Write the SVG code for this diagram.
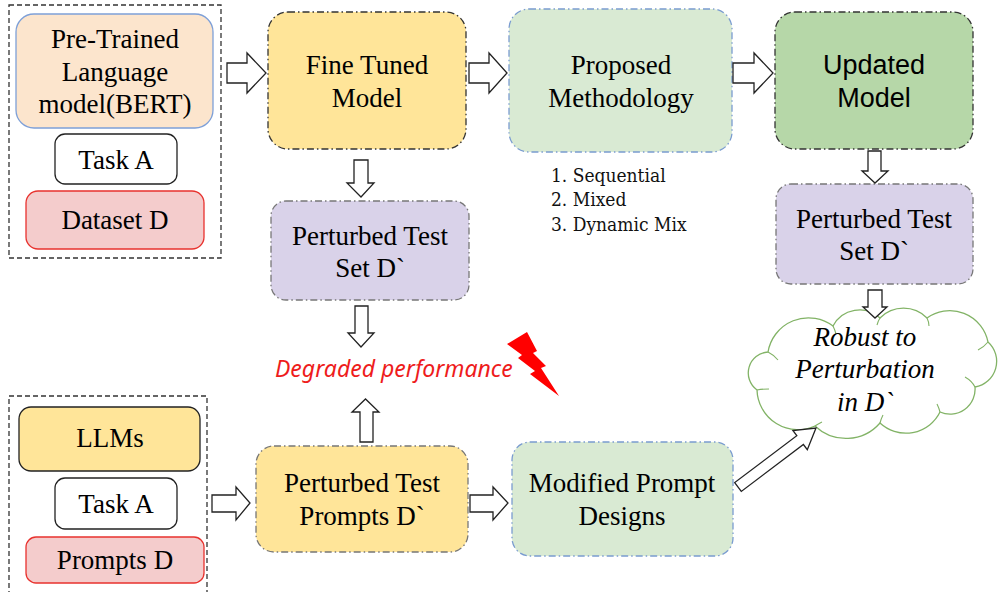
<svg xmlns="http://www.w3.org/2000/svg" width="1005" height="592" viewBox="0 0 1005 592">
<style>
.t{font-family:"Liberation Serif","Times New Roman",serif;font-size:27px;fill:#000;text-anchor:middle}
.ts{font-family:"Liberation Sans",Arial,sans-serif;font-size:27px;fill:#000;text-anchor:middle}
.ti{font-family:"Liberation Serif","Times New Roman",serif;font-size:27px;font-style:italic;fill:#000;text-anchor:middle}
.li{font-family:"DejaVu Serif Condensed","DejaVu Serif",serif;font-stretch:condensed;font-size:19px;fill:#111}
.deg{font-family:"Noto Sans","Open Sans",sans-serif;font-size:23px;font-style:italic;fill:#ee1c1c}
.cont{fill:none;stroke:#333;stroke-width:1.3;stroke-dasharray:5 3}
.dd{stroke-width:1.3;stroke-dasharray:7 3 1.5 3}
.arr{fill:#fff;stroke:#222;stroke-width:1.3;stroke-linejoin:miter}
</style>

<g id="input-box-top">
<rect class="cont" x="9" y="5" width="212" height="253"/>
</g>
<g id="pretrained">
<rect x="16" y="14" width="197" height="114" rx="18" fill="#fce5cd" stroke="#7ea0d8" stroke-width="1.3"/>
<text class="t" x="115" y="48">Pre-Trained</text>
<text class="t" x="115" y="81">Language</text>
<text class="t" x="115" y="113">model(BERT)</text>
</g>
<g id="taskA-top">
<rect x="55" y="134" width="122" height="50" rx="10" fill="#fff" stroke="#222" stroke-width="1.3"/>
<text class="t" x="116" y="169">Task A</text>
</g>
<g id="dataset">
<rect x="26" y="191" width="178" height="58" rx="12" fill="#f4cccc" stroke="#e8322e" stroke-width="1.3"/>
<text class="t" x="115" y="229">Dataset D</text>
</g>

<g id="finetuned">
<rect class="dd" x="268" y="12" width="198" height="137" rx="20" fill="#ffe599" stroke="#333"/>
<text class="t" x="367" y="74">Fine Tuned</text>
<text class="t" x="367" y="107">Model</text>
</g>
<g id="proposed">
<rect class="dd" x="509" y="9" width="223" height="143" rx="20" fill="#d9ead3" stroke="#7a9cd0"/>
<text class="t" x="621" y="74">Proposed</text>
<text class="t" x="621" y="107">Methodology</text>
</g>
<g id="methods">
<text class="li" x="551" y="182">1. Sequential</text>
<text class="li" x="551" y="206">2. Mixed</text>
<text class="li" x="551" y="231">3. Dynamic Mix</text>
</g>
<g id="updated">
<rect class="dd" x="775" y="12" width="198" height="137" rx="20" fill="#b6d7a8" stroke="#333"/>
<text class="ts" x="874" y="74">Updated</text>
<text class="ts" x="874" y="107">Model</text>
</g>
<g id="perturbed-left">
<rect class="dd" x="271" y="201" width="198" height="99" rx="15" fill="#d9d2e9" stroke="#777"/>
<text class="t" x="370" y="245">Perturbed Test</text>
<text class="t" x="370" y="277">Set D`</text>
</g>
<g id="perturbed-right">
<rect class="dd" x="776" y="184" width="197" height="100" rx="15" fill="#d9d2e9" stroke="#777"/>
<text class="t" x="874" y="228">Perturbed Test</text>
<text class="t" x="874" y="260">Set D`</text>
</g>

<g id="degraded">
<text class="deg" x="275" y="377">Degraded performance</text>
<polygon points="507,344 527,332 537,351 533,353 546,366 541,368 559,396 530,374 535,371 518,358 522,355" fill="#ff0000"/>
</g>

<g id="robust">
<path d="M768,352 A41,41 0 0 1 833,326 A30,30 0 0 1 880,318 A33,33 0 0 1 927,318 A39,39 0 0 1 988,342 A26,26 0 0 1 975,387 A25,25 0 0 1 940,412 A38,38 0 0 1 880,423 A45,45 0 0 1 815,426 A41,41 0 0 1 757,390 A21,21 0 0 1 768,352 Z" fill="#fff" stroke="#82b366" stroke-width="1.3"/>
<path d="M768,352 q6,3 10,8 M833,326 q2,4 3,8 M880,318 q-2,3 -3,7 M927,318 q2,4 2,8 M988,342 q-4,5 -10,8 M975,387 q-3,-6 -10,-10 M940,412 q-1,-4 -3,-8 M880,423 q1,-4 3,-8 M815,426 q3,-2 7,-4 M757,390 q5,-1 12,-1" fill="none" stroke="#82b366" stroke-width="1.1"/>
<text class="ti" x="865" y="346">Robust to</text>
<text class="ti" x="865" y="378">Perturbation</text>
<text class="ti" x="865" y="411">in D`</text>
</g>

<g id="input-box-bottom">
<rect class="cont" x="9" y="396" width="198" height="210"/>
</g>
<g id="llms">
<rect x="19" y="407" width="181" height="64" rx="12" fill="#ffe599" stroke="#222" stroke-width="1.3"/>
<text class="t" x="110" y="447">LLMs</text>
</g>
<g id="taskA-bottom">
<rect x="55" y="478" width="122" height="51" rx="10" fill="#fff" stroke="#222" stroke-width="1.3"/>
<text class="t" x="116" y="513">Task A</text>
</g>
<g id="prompts">
<rect x="26" y="537" width="178" height="46" rx="10" fill="#f4cccc" stroke="#e8322e" stroke-width="1.3"/>
<text class="t" x="115" y="569">Prompts D</text>
</g>
<g id="perturbed-prompts">
<rect class="dd" x="256" y="446" width="212" height="106" rx="18" fill="#ffe599" stroke="#777"/>
<text class="t" x="362" y="492">Perturbed Test</text>
<text class="t" x="362" y="525">Prompts D`</text>
</g>
<g id="modified">
<rect class="dd" x="512" y="442" width="221" height="114" rx="18" fill="#d9ead3" stroke="#7a9cd0"/>
<text class="t" x="622" y="492">Modified Prompt</text>
<text class="t" x="622" y="525">Designs</text>
</g>

<g id="connectors">
<path class="arr" d="M227,63 L247,63 L247,53 L266,73 L247,93 L247,83 L227,83 Z"/>
<path class="arr" d="M469,63 L489,63 L489,53 L507,73 L489,93 L489,83 L469,83 Z"/>
<path class="arr" d="M733,63 L754,63 L754,53 L773,73 L754,93 L754,83 L733,83 Z"/>
<path class="arr" d="M354,160 L368,160 L368,183 L374,183 L361,197 L347,183 L354,183 Z"/>
<path class="arr" d="M868,151 L881,151 L881,171 L888,171 L875,183 L862,171 L868,171 Z"/>
<path class="arr" d="M868,290 L882,290 L882,307 L887,307 L875,318 L863,307 L868,307 Z"/>
<path class="arr" d="M355,306 L368,306 L368,333 L374,333 L361,347 L348,333 L355,333 Z"/>
<path class="arr" d="M360,442 L373,442 L373,412 L379,412 L365.5,399 L352,412 L360,412 Z"/>
<path class="arr" d="M212,495 L236,495 L236,487 L250,503 L236,520 L236,512 L212,512 Z"/>
<path class="arr" d="M470,495 L493,495 L493,487 L508,503 L493,520 L493,512 L470,512 Z"/>
<path class="arr" d="M741.3,491.4 L734.7,482.6 L796.8,435.7 L792.9,430.5 L816,428 L807.3,449.7 L803.4,444.5 Z"/>
</g>
</svg>
